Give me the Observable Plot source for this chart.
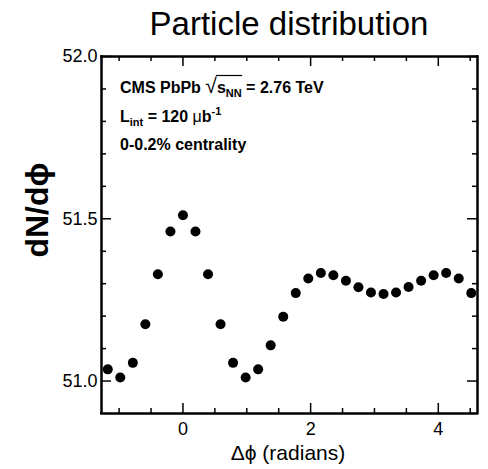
<!DOCTYPE html>
<html>
<head>
<meta charset="utf-8">
<script src="https://cdn.jsdelivr.net/npm/d3@7"></script>
<script src="https://cdn.jsdelivr.net/npm/@observablehq/plot@0.6"></script>
<style>
  html, body { margin: 0; padding: 0; background: white; overflow: hidden; }
  #title { width: 488px; height: 48px; box-sizing: border-box; padding-left: 101px; padding-right: 11px;
    text-align: center; font: 33px "Liberation Sans", Arial, sans-serif; line-height: 48px; color: black; }
  #chart { height: 421px; line-height: 0; }
  #chart svg { display: block; }
</style>
</head>
<body>
<div id="title">Particle distribution</div>
<div id="chart"></div>
<script>
const FONT = '"Liberation Sans", Arial, Helvetica, sans-serif';

// Δφ values (radians) of the points
const phi = [-1.178, -0.982, -0.785, -0.589, -0.393, -0.196, 0.000, 0.196, 0.393, 0.589,
  0.785, 0.982, 1.178, 1.374, 1.571, 1.767, 1.963, 2.160, 2.356, 2.553,
  2.749, 2.945, 3.142, 3.338, 3.534, 3.731, 3.927, 4.123, 4.320, 4.516];
// dN/dφ values
const dndphi = [51.036, 51.011, 51.056, 51.175, 51.329, 51.461, 51.511, 51.461, 51.329, 51.175,
  51.056, 51.011, 51.036, 51.110, 51.198, 51.271, 51.316, 51.333, 51.326, 51.309,
  51.289, 51.273, 51.268, 51.273, 51.290, 51.309, 51.326, 51.333, 51.316, 51.271];

const xDomain = [-1.276, 4.614];
const yDomain = [50.9, 52.0];
const xMajor = [0, 2, 4];
const xMinor = [-1, -0.5, 0.5, 1, 1.5, 2.5, 3, 3.5, 4.5];
const yMajor = [51.0, 51.5, 52.0];
const yMinor = [51.1, 51.2, 51.3, 51.4, 51.6, 51.7, 51.8, 51.9];

const data = phi.map((x, i) => ({x, y: dndphi[i]}));

const W = 488, H = 421, mL = 101, mR = 11, mT = 8, mB = 56;
const fw = W - mL - mR, fh = H - mT - mB;
const majL = 10, minL = 5;
const xPer = (xDomain[1] - xDomain[0]) / fw;
const yPer = (yDomain[1] - yDomain[0]) / fh;
const [x0, x1] = xDomain, [y0, y1] = yDomain;

const ts = {stroke: "black", strokeWidth: 1.5};
const ticksX = (vals, len) => [
  Plot.ruleX(vals, {x: d => d, y1: y0, y2: y0 + len * yPer, ...ts}),
  Plot.ruleX(vals, {x: d => d, y1: y1, y2: y1 - len * yPer, ...ts})
];
const ticksY = (vals, len) => [
  Plot.ruleY(vals, {y: d => d, x1: x0, x2: x0 + len * xPer, ...ts}),
  Plot.ruleY(vals, {y: d => d, x1: x1, x2: x1 - len * xPer, ...ts})
];
const fs = {stroke: "black", strokeWidth: 2, strokeLinecap: "square"};

const chart = Plot.plot({
  width: W, height: H,
  marginLeft: mL, marginRight: mR, marginTop: mT, marginBottom: mB,
  x: {domain: xDomain},
  y: {domain: yDomain},
  style: {fontFamily: FONT, background: "white", color: "black"},
  marks: [
    Plot.axisX(xMajor, {tickSize: 0, tickPadding: 9, fontSize: 18, label: null, tickFormat: d => String(d)}),
    Plot.axisY(yMajor, {tickSize: 0, tickPadding: 4, fontSize: 18, label: null, tickFormat: d3.format(".1f")}),
    ...ticksX(xMajor, majL), ...ticksX(xMinor, minL),
    ...ticksY(yMajor, majL), ...ticksY(yMinor, minL),
    Plot.frame({stroke: "black", strokeWidth: 2}),
    Plot.ruleX([x0, x1], {x: d => d, y1: y0, y2: y1, ...fs}),
    Plot.ruleY([y0, y1], {y: d => d, x1: x0, x2: x1, ...fs}),
    Plot.dot(data, {x: "x", y: "y", r: 5, fill: "black"})
  ]
});
document.getElementById("chart").appendChild(chart);

const svg = d3.select(chart);

// axis titles
svg.append("text")
  .attr("transform", "translate(37,162) rotate(-90)")
  .attr("text-anchor", "middle").attr("dominant-baseline", "central")
  .attr("font-family", FONT).attr("font-size", 32).attr("font-weight", "bold")
  .attr("fill", "black").text("dN/dϕ");
svg.append("text")
  .attr("x", 288).attr("y", 404)
  .attr("text-anchor", "middle").attr("dominant-baseline", "central")
  .attr("font-family", FONT).attr("font-size", 21)
  .attr("fill", "black").text("Δϕ (radians)");

// annotation
const ann = svg.append("g").attr("font-family", FONT).attr("font-size", 16)
  .attr("font-weight", "bold").attr("fill", "black").attr("text-anchor", "start");
const t1 = ann.append("text").attr("x", 120).attr("y", 45);
t1.append("tspan").text("CMS PbPb ");
t1.append("tspan").attr("font-weight", "normal").attr("font-size", 21).text("√");
t1.append("tspan").text("s");
t1.append("tspan").attr("font-size", 11).attr("dy", 4).text("NN");
t1.append("tspan").attr("dy", -4).text(" = 2.76 TeV");
const tn = t1.node();
const xs = tn.getEndPositionOfChar(9).x;
const xe = tn.getEndPositionOfChar(12).x + 0.5;
ann.append("line").attr("x1", xs - 1).attr("x2", xe).attr("y1", 27.5).attr("y2", 27.5)
  .attr("stroke", "black").attr("stroke-width", 1.2);

const t2 = ann.append("text").attr("x", 120).attr("y", 74);
t2.append("tspan").text("L");
t2.append("tspan").attr("font-size", 11).attr("dy", 4).text("int");
t2.append("tspan").attr("dy", -4).text(" = 120 ");
t2.append("tspan").attr("font-weight", "normal").text("μ");
t2.append("tspan").text("b");
t2.append("tspan").attr("font-size", 11).attr("dy", -7).text("-1");

ann.append("text").attr("x", 120).attr("y", 102).text("0-0.2% centrality");
</script>
</body>
</html>
